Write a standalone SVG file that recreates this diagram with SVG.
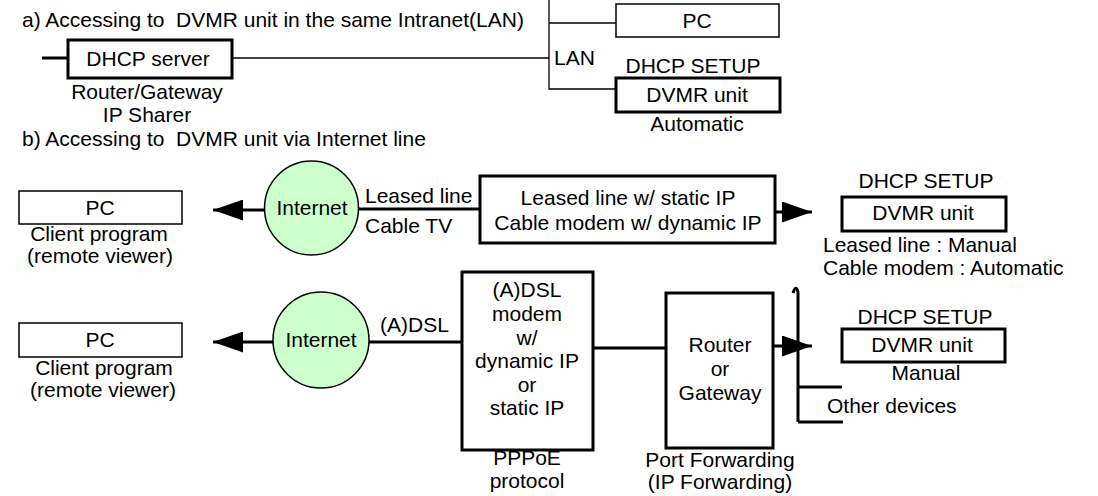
<svg xmlns="http://www.w3.org/2000/svg" width="1098" height="496" viewBox="0 0 1098 496">
<defs>
<style>
text{font-family:"Liberation Sans",Arial,sans-serif;font-size:21px;fill:#000;white-space:pre}
.c{text-anchor:middle}
.thin{fill:#fff;stroke:#000;stroke-width:1.5}
.thick{fill:#fff;stroke:#000;stroke-width:3}
.ln{fill:none;stroke:#000;stroke-width:1.3}
.lnb{fill:none;stroke:#000;stroke-width:3}
.cloud{fill:#ccffcc;stroke:#000;stroke-width:1.5}
</style>
<marker id="ah" viewBox="0 0 10 7" refX="10" refY="3.5" markerWidth="10" markerHeight="7" markerUnits="strokeWidth" orient="auto">
<path d="M0,0 L10,3.5 L0,7 Z" fill="#000"/>
</marker>
</defs>
<rect width="1098" height="496" fill="#fff"/>

<text x="22" y="27" xml:space="preserve">a) Accessing to  DVMR unit in the same Intranet(LAN)</text>
<text x="22" y="146" xml:space="preserve">b) Accessing to  DVMR unit via Internet line</text>

<g id="connectors">
<path class="lnb" d="M42,58 H68"/>
<path class="ln" d="M232,58 H549"/>
<path class="ln" d="M549,0 V89 H616"/>
<path class="ln" d="M549,23 H616"/>
<path class="lnb" d="M265,210 H213" marker-end="url(#ah)"/>
<path class="lnb" d="M358,209 H480"/>
<path class="lnb" d="M775,212 H812" marker-end="url(#ah)"/>
<path class="lnb" d="M273,342 H213" marker-end="url(#ah)"/>
<path class="lnb" d="M369,342 H462"/>
<path class="lnb" d="M593,348 H666"/>
<path class="lnb" d="M773,346 H812" marker-end="url(#ah)"/>
<path class="lnb" d="M798,422 V292 Q796,284 793,293"/>
<path class="lnb" d="M798,387 H842"/>
<path class="lnb" d="M798,422 H843"/>
</g>

<g id="dhcp-server">
<rect class="thick" x="68" y="40" width="164" height="38"/>
<text class="c" x="148" y="66">DHCP server</text>
<text class="c" x="147" y="99">Router/Gateway</text>
<text class="c" x="147" y="122">IP Sharer</text>
</g>
<text x="554" y="65">LAN</text>
<g id="pc-lan">
<rect class="thin" x="616" y="4" width="163" height="33"/>
<text class="c" x="697" y="28">PC</text>
</g>
<g id="dvmr-lan">
<text class="c" x="693" y="73">DHCP SETUP</text>
<rect class="thick" x="616" y="78" width="164" height="34"/>
<text class="c" x="697" y="102">DVMR unit</text>
<text class="c" x="697" y="131">Automatic</text>
</g>

<g id="pc-1">
<rect class="thin" x="19" y="191" width="163" height="33"/>
<text class="c" x="100" y="215">PC</text>
<text class="c" x="99" y="241">Client program</text>
<text class="c" x="100" y="263">(remote viewer)</text>
</g>
<g id="internet-1">
<circle class="cloud" cx="311.5" cy="208" r="47"/>
<text class="c" x="312" y="215">Internet</text>
</g>
<text x="365" y="203">Leased line</text>
<text x="365" y="233">Cable TV</text>
<g id="leased-box">
<rect class="thick" x="480" y="176" width="295" height="67"/>
<text class="c" x="628" y="205">Leased line w/ static IP</text>
<text class="c" x="628" y="230">Cable modem w/ dynamic IP</text>
</g>
<g id="dvmr-1">
<text class="c" x="926" y="188">DHCP SETUP</text>
<rect class="thick" x="842" y="197" width="164" height="34"/>
<text class="c" x="923" y="220">DVMR unit</text>
<text x="823" y="252">Leased line : Manual</text>
<text x="823" y="275">Cable modem : Automatic</text>
</g>

<g id="pc-2">
<rect class="thin" x="19" y="323" width="163" height="34"/>
<text class="c" x="100" y="347">PC</text>
<text class="c" x="104" y="375">Client program</text>
<text class="c" x="103" y="397">(remote viewer)</text>
</g>
<g id="internet-2">
<circle class="cloud" cx="321" cy="340" r="48"/>
<text class="c" x="321" y="347">Internet</text>
</g>
<text x="380" y="332">(A)DSL</text>
<g id="dsl-modem">
<rect class="thick" x="462" y="272" width="131" height="178"/>
<text class="c" x="527" y="297">(A)DSL</text>
<text class="c" x="527" y="321">modem</text>
<text class="c" x="527" y="345">w/</text>
<text class="c" x="527" y="368">dynamic IP</text>
<text class="c" x="527" y="392">or</text>
<text class="c" x="527" y="415">static IP</text>
<text class="c" x="527" y="465">PPPoE</text>
<text class="c" x="527" y="488">protocol</text>
</g>
<g id="router">
<rect class="thick" x="666" y="293" width="107" height="155"/>
<text class="c" x="720" y="352">Router</text>
<text class="c" x="720" y="376">or</text>
<text class="c" x="720" y="400">Gateway</text>
<text class="c" x="720" y="467">Port Forwarding</text>
<text class="c" x="720" y="489">(IP Forwarding)</text>
</g>
<g id="dvmr-2">
<text class="c" x="925" y="324">DHCP SETUP</text>
<rect class="thick" x="842" y="329" width="163" height="33"/>
<text class="c" x="922" y="352">DVMR unit</text>
<text class="c" x="926" y="380">Manual</text>
</g>
<text x="827" y="413">Other devices</text>
</svg>
